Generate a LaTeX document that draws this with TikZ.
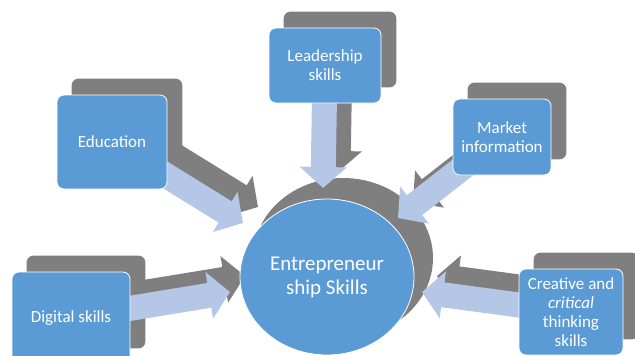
\documentclass[tikz,border=0pt]{standalone}
\usepackage{fontspec}
\setmainfont{Carlito}
\usepackage{xcolor}
\usetikzlibrary{arrows.meta,shapes.geometric,calc}

\definecolor{boxblue}{HTML}{5B9BD5}
\definecolor{shadowgrey}{HTML}{7F7F7F}
\definecolor{arrowblue}{HTML}{B4C7E7}

\pgfdeclarelayer{shadowlayer}
\pgfdeclarelayer{arrowlayer}
\pgfsetlayers{shadowlayer,arrowlayer,main}

\tikzset{
	skillbox/.style={rectangle,rounded corners=7pt,fill=boxblue,draw=white,line width=0.8pt,
		text=white,align=center,inner sep=2pt,font=\fontsize{17}{19}\selectfont},
	blockarrow/.style={line width=25pt,-{Triangle[width=46pt,length=21pt]}},
	shadowshift/.style={shift={(15,-16)}},
}

\begin{document}
\begin{tikzpicture}[x=1pt,y=-1pt]

\useasboundingbox (0,0) rectangle (635,356);


\node[ellipse,fill=boxblue,draw=white,line width=0.8pt,minimum width=174pt,minimum height=156pt,
	text=white,align=center,font=\fontsize{21}{24}\selectfont] (ent) at (327,277) {Entrepreneur\\ship Skills};

\node[skillbox,minimum width=112pt,minimum height=75pt] (lead) at (325,65.5) {Leadership\\skills};
\node[skillbox,minimum width=110pt,minimum height=94pt] (edu) at (112,142) {Education};
\node[skillbox,minimum width=98pt,minimum height=76pt] (mkt) at (502,137) {Market\\information};
\node[skillbox,minimum width=118pt,minimum height=92pt] (dig) at (71,318) {Digital skills};
\node[skillbox,minimum width=104pt,minimum height=86pt] (cre) at (571,312) {Creative and\\\textit{critical}\\thinking\\skills};


\coordinate (tlead) at (323,188);
\coordinate (tedu) at (243,223);
\coordinate (tmkt) at (398,218);
\coordinate (tdig) at (230,292);
\coordinate (tcre) at (422,292);


\begin{pgfonlayer}{shadowlayer}
\foreach \n in {lead,edu,mkt,dig,cre}
	\fill[shadowgrey,rounded corners=7pt] ([shadowshift]\n.south west) rectangle ([shadowshift]\n.north east);% box shadow
\fill[shadowgrey] ([shift={(16,-19)}]ent.center) ellipse (90 and 80);% circle shadow
\end{pgfonlayer}


\begin{pgfonlayer}{arrowlayer}
\foreach \from/\to in {lead/tlead,edu/tedu,mkt/tmkt,dig/tdig,cre/tcre}
	\draw[blockarrow,shadowgrey] ([shadowshift]\from.center) -- ([shadowshift]\to);% arrow shadow
\foreach \from/\to in {lead/tlead,edu/tedu,mkt/tmkt,dig/tdig,cre/tcre}
	\draw[blockarrow,arrowblue] (\from.center) -- (\to);
\end{pgfonlayer}


\end{tikzpicture}
\end{document}
